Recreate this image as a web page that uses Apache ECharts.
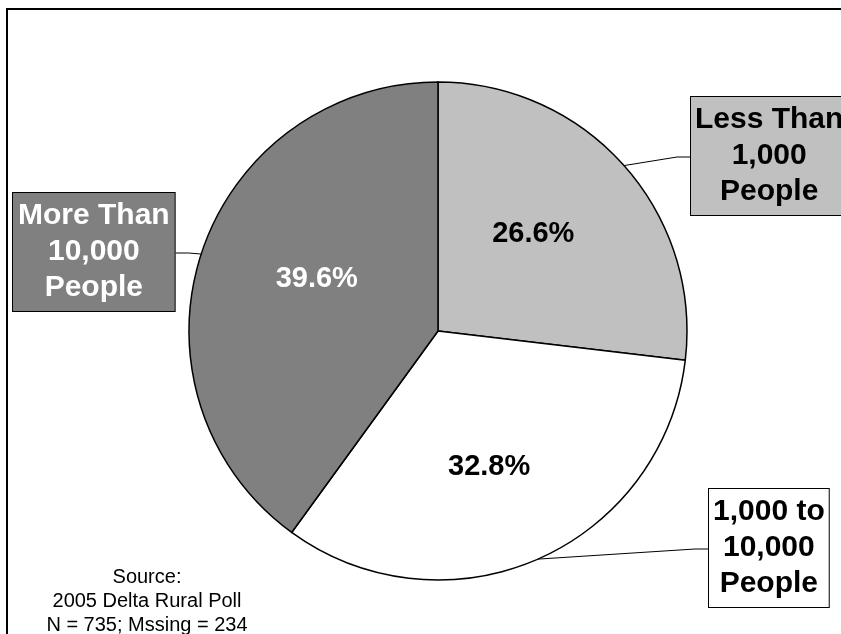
<!DOCTYPE html>
<html>
<head>
<meta charset="utf-8">
<script src="https://cdn.jsdelivr.net/npm/echarts@6/dist/echarts.min.js"></script>
<style>
  html, body { margin: 0; padding: 0; background: #fff; }
  #chart { width: 841px; height: 634px; }
</style>
</head>
<body>
<div id="chart"></div>
<script>
// Community size shares, clockwise from 12 o'clock
const categories = ['Less Than\n1,000\nPeople', '1,000 to\n10,000\nPeople', 'More Than\n10,000\nPeople'];
const shares = [26.6, 32.8, 39.6];
const sliceColors = ['#c0c0c0', '#ffffff', '#808080'];
const nameTextColors = ['#000000', '#000000', '#ffffff'];
const pctTextColors = ['#000000', '#000000', '#ffffff'];
const sourceLines = ['Source:', '2005 Delta Rural Poll', 'N = 735; Mssing = 234'];

const FONT = '"Liberation Sans", Arial, Helvetica, sans-serif';
const CENTER = [438, 331];
const RADIUS = 249;

// Callout box placement: top-left corner of each box, side the leader enters, horizontal padding
const boxSpots = [
  { x: 690, y: 97, side: 'left', padX: 4 },
  { x: 708, y: 489, side: 'left', padX: 4 },
  { x: 12, y: 193, side: 'right', padX: 5 }
];
// Nudges for the percentage labels inside the slices
const pctNudge = [-12, 19, -13];

const chart = echarts.init(document.getElementById('chart'), null, { renderer: 'canvas' });

const nameData = categories.map((c, i) => ({
  name: c,
  value: shares[i],
  itemStyle: { color: sliceColors[i] },
  label: {
    color: nameTextColors[i],
    backgroundColor: sliceColors[i],
    padding: [5, boxSpots[i].padX, 5, boxSpots[i].padX]
  }
}));

const pctData = categories.map((c, i) => ({
  name: c,
  value: shares[i],
  label: { color: pctTextColors[i] }
}));

chart.setOption({
  animation: false,
  backgroundColor: '#ffffff',
  graphic: [
    {
      type: 'rect',
      z: -10,
      shape: { x: 7, y: 9, width: 900, height: 700 },
      style: { fill: 'none', stroke: '#000', lineWidth: 2 }
    },
    {
      type: 'text',
      x: 147,
      y: 565,
      style: {
        text: sourceLines.join('\n'),
        textAlign: 'center',
        textVerticalAlign: 'top',
        font: '20px ' + FONT,
        lineHeight: 24,
        fill: '#000'
      }
    }
  ],
  series: [
    {
      type: 'pie',
      center: CENTER,
      radius: RADIUS,
      startAngle: 90,
      clockwise: true,
      avoidLabelOverlap: false,
      silent: true,
      itemStyle: { borderColor: '#000', borderWidth: 1.5 },
      label: {
        show: true,
        position: 'outside',
        formatter: p => p.name,
        fontFamily: FONT,
        fontSize: 30,
        fontWeight: 'bold',
        lineHeight: 36,
        align: 'center',
        overflow: 'none',
        borderColor: '#000',
        borderWidth: 1
      },
      labelLine: {
        show: true,
        length: 10,
        length2: 10,
        lineStyle: { color: '#000', width: 1 }
      },
      labelLayout: function (p) {
        const b = boxSpots[p.dataIndex];
        const w = p.labelRect.width;
        const h = p.labelRect.height;
        const midY = b.y + h / 2;
        const edgeX = b.side === 'left' ? b.x : b.x + w;
        const bendX = b.side === 'left' ? edgeX - 13 : edgeX + 13;
        const out = { x: b.x + w / 2, y: b.y, align: 'center', verticalAlign: 'top' };
        if (p.labelLinePoints && p.labelLinePoints.length) {
          const start = p.labelLinePoints[0];
          out.labelLinePoints = [[start[0], start[1]], [bendX, midY], [edgeX, midY]];
        }
        return out;
      },
      data: nameData
    },
    {
      type: 'pie',
      center: CENTER,
      radius: RADIUS,
      startAngle: 90,
      clockwise: true,
      silent: true,
      avoidLabelOverlap: false,
      itemStyle: { color: 'rgba(0,0,0,0)', borderWidth: 0 },
      label: {
        show: true,
        position: 'inner',
        formatter: p => p.value.toFixed(1) + '%',
        fontFamily: FONT,
        fontSize: 29,
        fontWeight: 'bold'
      },
      labelLine: { show: false },
      labelLayout: function (p) {
        return { dy: pctNudge[p.dataIndex] };
      },
      data: pctData
    }
  ]
});
</script>
</body>
</html>
